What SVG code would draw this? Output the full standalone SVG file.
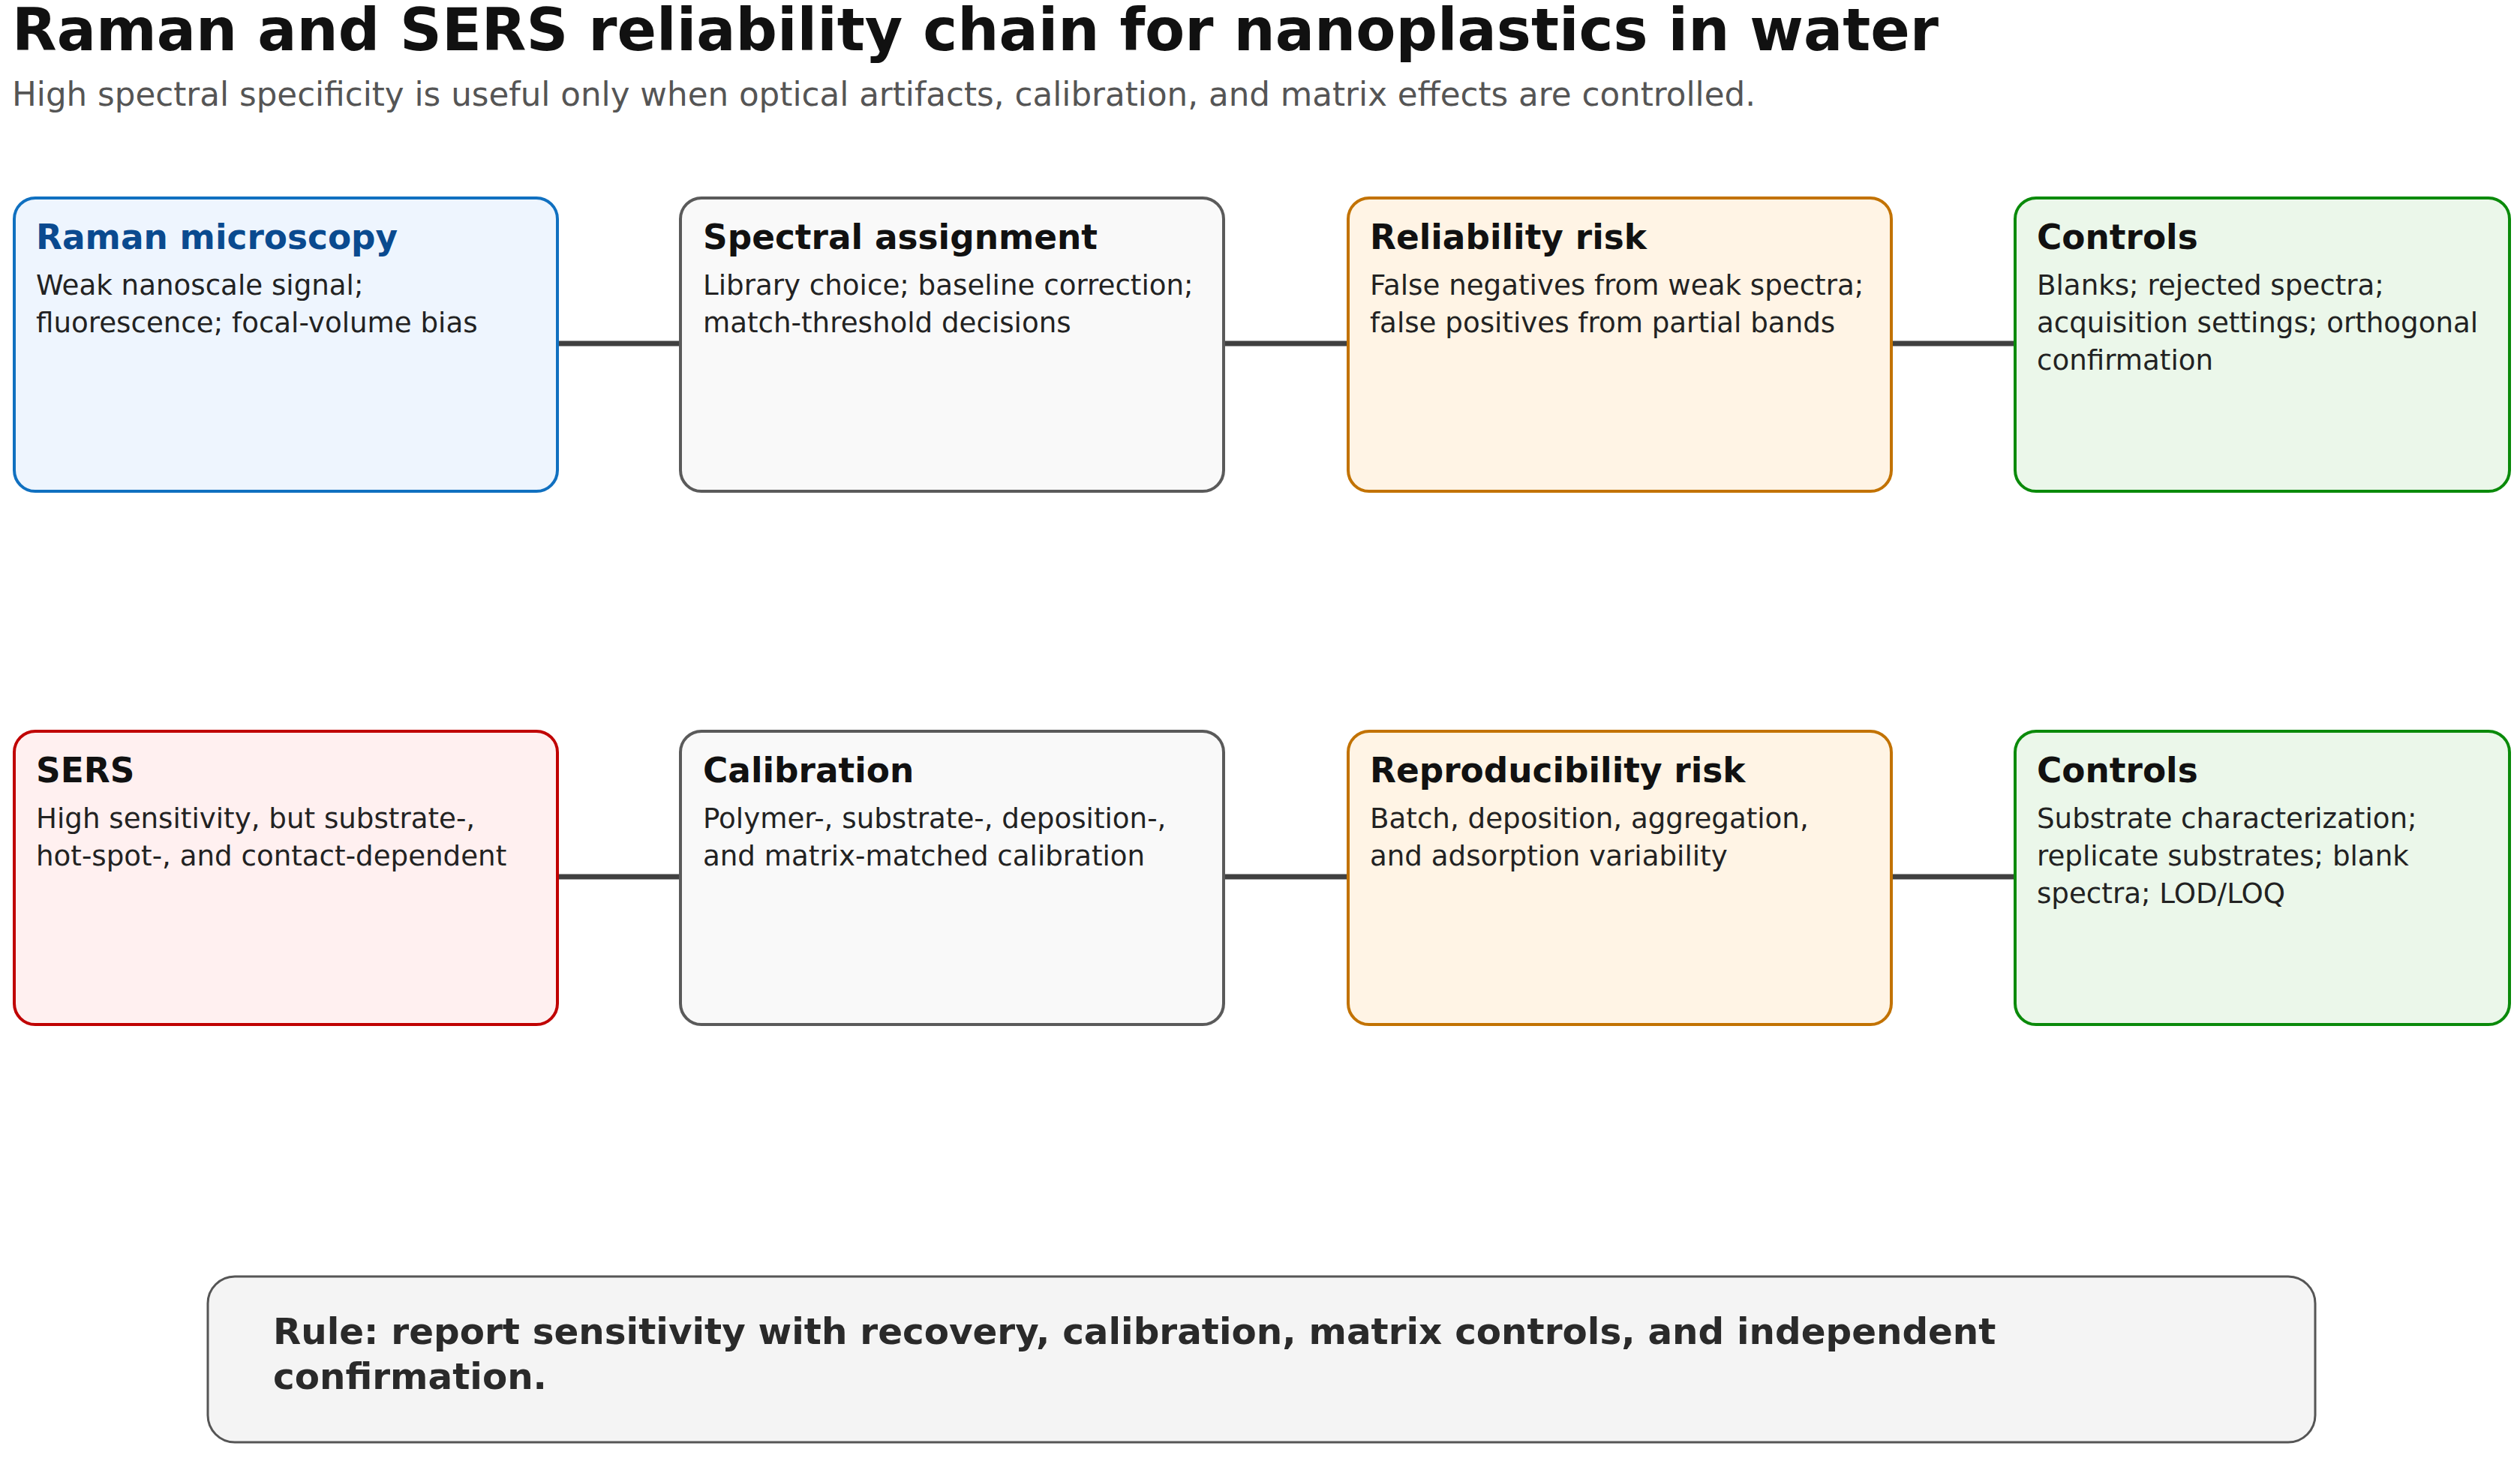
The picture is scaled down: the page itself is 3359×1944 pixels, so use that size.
<svg xmlns="http://www.w3.org/2000/svg" width="3359" height="1944" viewBox="0 0 3359 1944">
<style>
text{font-family:"DejaVu Sans","Liberation Sans",sans-serif}
.title{font-size:77.5px;font-weight:bold;fill:#111}
.sub{font-size:43.6px;fill:#555}
.nt{font-size:45.4px;font-weight:bold;fill:#111}
.nb{font-size:37.2px;fill:#222}
.box{stroke-width:4}
.blue{fill:#eef5fe;stroke:#1070c0}
.gray{fill:#f9f9f9;stroke:#5a5a5a}
.orange{fill:#fff4e5;stroke:#c27200}
.green{fill:#ebf7ea;stroke:#0a8a0a}
.red{fill:#fff0f0;stroke:#c00000}
.conn{stroke:#404040;stroke-width:7;fill:none}
.rule{font-size:48.4px;font-weight:bold;fill:#2a2a2a}
</style>
<rect width="3359" height="1944" fill="#ffffff"/>
<text class="title" x="16" y="67">Raman and SERS reliability chain for nanoplastics in water</text>
<text class="sub" x="16" y="141">High spectral specificity is useful only when optical artifacts, calibration, and matrix effects are controlled.</text>
<g id="connectors">
<line class="conn" x1="743" y1="458" x2="907" y2="458"/>
<line class="conn" x1="1631" y1="458" x2="1797" y2="458"/>
<line class="conn" x1="2521" y1="458" x2="2686" y2="458"/>
<line class="conn" x1="743" y1="1169" x2="907" y2="1169"/>
<line class="conn" x1="1631" y1="1169" x2="1797" y2="1169"/>
<line class="conn" x1="2521" y1="1169" x2="2686" y2="1169"/>
</g>
<g id="raman">
<rect class="box blue" x="19" y="264" width="724" height="391" rx="28"/>
<text class="nt" x="48" y="332" style="fill:#0a4a8f">Raman microscopy</text>
<text class="nb" x="48" y="393">Weak nanoscale signal;</text>
<text class="nb" x="48" y="443">fluorescence; focal-volume bias</text>
</g>
<g id="spectral">
<rect class="box gray" x="907" y="264" width="724" height="391" rx="28"/>
<text class="nt" x="937" y="332">Spectral assignment</text>
<text class="nb" x="937" y="393">Library choice; baseline correction;</text>
<text class="nb" x="937" y="443">match-threshold decisions</text>
</g>
<g id="reliability">
<rect class="box orange" x="1797" y="264" width="724" height="391" rx="28"/>
<text class="nt" x="1826" y="332">Reliability risk</text>
<text class="nb" x="1826" y="393">False negatives from weak spectra;</text>
<text class="nb" x="1826" y="443">false positives from partial bands</text>
</g>
<g id="controls1">
<rect class="box green" x="2686" y="264" width="659" height="391" rx="28"/>
<text class="nt" x="2715" y="332">Controls</text>
<text class="nb" x="2715" y="393">Blanks; rejected spectra;</text>
<text class="nb" x="2715" y="443">acquisition settings; orthogonal</text>
<text class="nb" x="2715" y="493">confirmation</text>
</g>
<g id="sers">
<rect class="box red" x="19" y="975" width="724" height="391" rx="28"/>
<text class="nt" x="48" y="1043">SERS</text>
<text class="nb" x="48" y="1104">High sensitivity, but substrate-,</text>
<text class="nb" x="48" y="1154">hot-spot-, and contact-dependent</text>
</g>
<g id="calibration">
<rect class="box gray" x="907" y="975" width="724" height="391" rx="28"/>
<text class="nt" x="937" y="1043">Calibration</text>
<text class="nb" x="937" y="1104">Polymer-, substrate-, deposition-,</text>
<text class="nb" x="937" y="1154">and matrix-matched calibration</text>
</g>
<g id="reproducibility">
<rect class="box orange" x="1797" y="975" width="724" height="391" rx="28"/>
<text class="nt" x="1826" y="1043">Reproducibility risk</text>
<text class="nb" x="1826" y="1104">Batch, deposition, aggregation,</text>
<text class="nb" x="1826" y="1154">and adsorption variability</text>
</g>
<g id="controls2">
<rect class="box green" x="2686" y="975" width="659" height="391" rx="28"/>
<text class="nt" x="2715" y="1043">Controls</text>
<text class="nb" x="2715" y="1104">Substrate characterization;</text>
<text class="nb" x="2715" y="1154">replicate substrates; blank</text>
<text class="nb" x="2715" y="1204">spectra; LOD/LOQ</text>
</g>
<g id="rule">
<rect x="277" y="1702" width="2809" height="221" rx="36" fill="#f4f4f4" stroke="#555" stroke-width="3"/>
<text class="rule" x="364" y="1792">Rule: report sensitivity with recovery, calibration, matrix controls, and independent</text>
<text class="rule" x="364" y="1852">confirmation.</text>
</g>
</svg>
